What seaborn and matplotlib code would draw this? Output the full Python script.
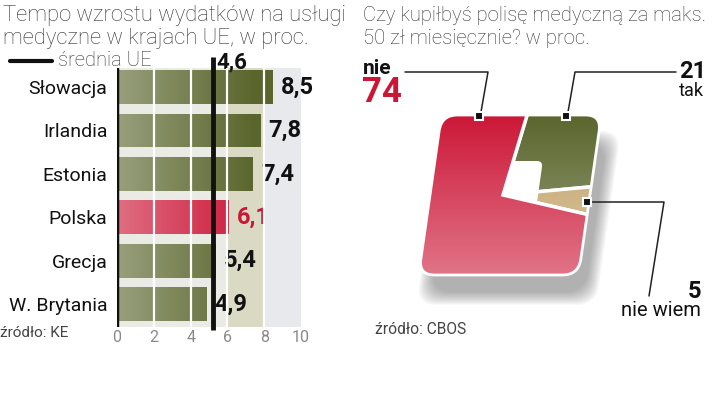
import numpy as np
import pandas as pd
import matplotlib
matplotlib.use("Agg")
import matplotlib.pyplot as plt
import seaborn as sns
from matplotlib.patches import FancyBboxPatch
from matplotlib.transforms import Affine2D

# ---- data ----
countries = ["Słowacja", "Irlandia", "Estonia", "Polska", "Grecja", "W. Brytania"]
growth = [8.5, 7.8, 7.4, 6.1, 5.4, 4.9]
value_labels = ["8,5", "7,8", "7,4", "6,1", "5,4", "4,9"]
eu_avg_label = "4,6"
eu_line_x = 5.2          # where the average line is drawn in the original graphic
x_ticks = [0, 2, 4, 6, 8, 10]

answers = ["tak", "nie wiem", "nie"]
shares = [21, 5, 74]
share_labels = ["21", "5", "74"]

# ---- colours ----
OLIVE = "#5a652c"
RED = "#cc1636"
TAN = "#c2a166"
INK = "#111111"
TXT = "#333333"

W, H = 720, 398

sns.set_theme(style="white")
plt.rcParams['font.family'] = ['Roboto', 'DejaVu Sans']
NUM = dict(family=['Liberation Sans Narrow', 'Roboto', 'DejaVu Sans'], weight='bold')

fig = plt.figure(figsize=(W / 100, H / 100), dpi=100)

# full-figure canvas in pixel units (y up) for texts and the square pie
canvas = fig.add_axes([0, 0, 1, 1])

def Y(y_img):
    return H - y_img

# ==========================================
# LEFT: bar chart
# ==========================================
ax = fig.add_axes([117 / W, 71 / H, 184 / W, 259 / H])
df = pd.DataFrame({"kraj": countries, "wzrost": growth})
bar_colors = [RED if c == "Polska" else OLIVE for c in countries]
sns.barplot(data=df, x="wzrost", y="kraj", hue="kraj", palette=bar_colors,
            legend=False, width=0.78, ax=ax, zorder=3, edgecolor="none",
            saturation=1)

ax.axvspan(0, 6, color="#ebebe6", zorder=0, lw=0)
ax.axvspan(6, 8, color="#dadac4", zorder=0, lw=0)
ax.axvspan(8, 10, color="#e8e9ec", zorder=0, lw=0)

# light-to-dark horizontal gradient on every bar
gx = np.linspace(0, 10, 256)
g_img = np.ones((1, 256, 4))
g_img[..., 3] = np.clip(0.38 * (1 - gx / 7.5), 0, None)
for cont in ax.containers:
    for p in cont:
        im = ax.imshow(g_img, extent=(0, 10, p.get_y() + p.get_height(), p.get_y()),
                       aspect="auto", zorder=3.5, interpolation="bilinear")
        im.set_clip_path(p)

for xv in [2, 4, 6, 8]:
    ax.axvline(xv, color="white", lw=1.6, zorder=4)
ax.axvline(0, color=INK, lw=2.5, zorder=5)
ax.plot([eu_line_x, eu_line_x], [5.6, -0.69], color=INK, lw=3.5,
        clip_on=False, zorder=6, solid_capstyle="butt")
ax.text(5.42, -0.58, eu_avg_label, fontsize=16, color=INK, va="center",
        ha="left", **NUM)

for i, (v, lab) in enumerate(zip(growth, value_labels)):
    ax.text(v + 0.42, i, lab, fontsize=17, va="center", ha="left",
            color=RED if countries[i] == "Polska" else INK, **NUM)

ax.set_xlim(0, 10)
ax.set_ylim(5.53, -0.44)
ax.set_xticks(x_ticks)
ax.set_xticklabels([str(t) for t in x_ticks])
ax.set_xlabel("")
ax.set_ylabel("")
ax.set_facecolor("none")
sns.despine(ax=ax, left=True, bottom=True)
ax.tick_params(axis="x", length=0, pad=2, labelsize=11.5, labelcolor="#8a8a8a")
ax.tick_params(axis="y", length=0, pad=7, labelsize=14, labelcolor=INK)

# titles / legend / source (left)
canvas.text(3, Y(27), "Tempo wzrostu wydatków na usługi\nmedyczne w krajach UE, w proc.",
            fontsize=15.8, color=TXT, va="center", ha="left",
            linespacing=1.18, weight="light")
canvas.plot([10, 52], [Y(61), Y(61)], color=INK, lw=3)
canvas.text(58, Y(61), "średnia UE", fontsize=14.5, color=TXT,
            va="center", ha="left", weight="light")
canvas.text(0, Y(333), "źródło: KE", fontsize=11, color="#444444",
            va="center", ha="left")

# ==========================================
# RIGHT: square "pie"
# ==========================================
cx, cy = 503, Y(195)
skew = (Affine2D().translate(-cx, -cy)
        .skew_deg(np.degrees(np.arctan(0.143)), 0).translate(cx, cy))
tr = skew + canvas.transData

sq = (430, Y(275), 160, 160)
square_clip = FancyBboxPatch(sq[:2], sq[2], sq[3],
                             boxstyle="round,pad=0,rounding_size=16",
                             transform=tr)

# soft shadow
for k in range(14):
    s = FancyBboxPatch((444 - 12 + k, Y(275) - 18 - 12 + k), 156 + 24 - 2 * k,
                       150 + 24 - 2 * k,
                       boxstyle="round,pad=0,rounding_size=20",
                       transform=tr, facecolor="#606060", edgecolor="none",
                       alpha=0.045, zorder=1)
    canvas.add_patch(s)

wedges, _ = canvas.pie(shares, colors=[OLIVE, TAN, RED], startangle=81,
                       counterclock=False, center=(cx, cy), radius=170,
                       wedgeprops=dict(edgecolor="white", linewidth=2.5),
                       frame=False)
for wdg, z in zip(wedges, [2, 2, 3]):
    wdg.set_transform(tr)
    wdg.set_clip_on(True)
    wdg.set_clip_path(square_clip)
    wdg.set_zorder(z)

# white notch in the middle
notch = FancyBboxPatch((502, Y(207)), 36, 46,
                       boxstyle="round,pad=0,rounding_size=6",
                       transform=tr, facecolor="white", edgecolor="none",
                       zorder=2.5)
canvas.add_patch(notch)

# vertical lightening gradient on the square
v_img = np.ones((256, 1, 4))
v_img[..., 3] = np.linspace(0, 0.42, 256)[:, None]
im2 = canvas.imshow(v_img, extent=(400, 620, Y(280), Y(112)), aspect="auto",
                    zorder=3.5, interpolation="bilinear")
im2.set_clip_path(square_clip)

outline = FancyBboxPatch(sq[:2], sq[2], sq[3],
                         boxstyle="round,pad=0,rounding_size=16",
                         transform=tr, facecolor="none", edgecolor="white",
                         lw=2, zorder=4)
canvas.add_patch(outline)

# leader lines and markers
lead = dict(color="#222222", lw=1.1, zorder=5)
canvas.plot([405, 488, 481], [Y(72), Y(72), Y(112)], **lead)
canvas.plot([676, 575, 568], [Y(72), Y(72), Y(112)], **lead)
canvas.plot([590, 664, 649], [Y(202), Y(202), Y(296)], **lead)
for mx, my in [(479, 116), (566, 116), (587, 202)]:
    canvas.plot(mx, Y(my), marker="s", ms=5.5, color=INK, mec="white",
                mew=1.5, zorder=6)

# labels
canvas.text(363, Y(68), "nie", fontsize=15, color=INK, va="center", ha="left", **NUM)
canvas.text(362, Y(93), share_labels[2], fontsize=25, color=RED, va="center",
            ha="left", **NUM)
canvas.text(706, Y(72), share_labels[0], fontsize=17, color=INK, va="center",
            ha="right", **NUM)
canvas.text(704, Y(91), answers[0], fontsize=13, color=INK, va="center", ha="right")
canvas.text(701, Y(291), share_labels[1], fontsize=17, color=INK, va="center",
            ha="right", **NUM)
canvas.text(701, Y(311), answers[1], fontsize=14.5, color=INK, va="center", ha="right")

canvas.text(363, Y(27), "Czy kupiłbyś polisę medyczną za maks.\n50 zł miesięcznie? w proc.",
            fontsize=14.6, color=TXT, va="center", ha="left",
            linespacing=1.27, weight="light")
canvas.text(375, Y(330), "źródło: CBOS", fontsize=11.2, color="#444444",
            va="center", ha="left")

canvas.set_xlim(0, W)
canvas.set_ylim(0, H)
canvas.axis("off")

fig.savefig("out.png", dpi=100)
